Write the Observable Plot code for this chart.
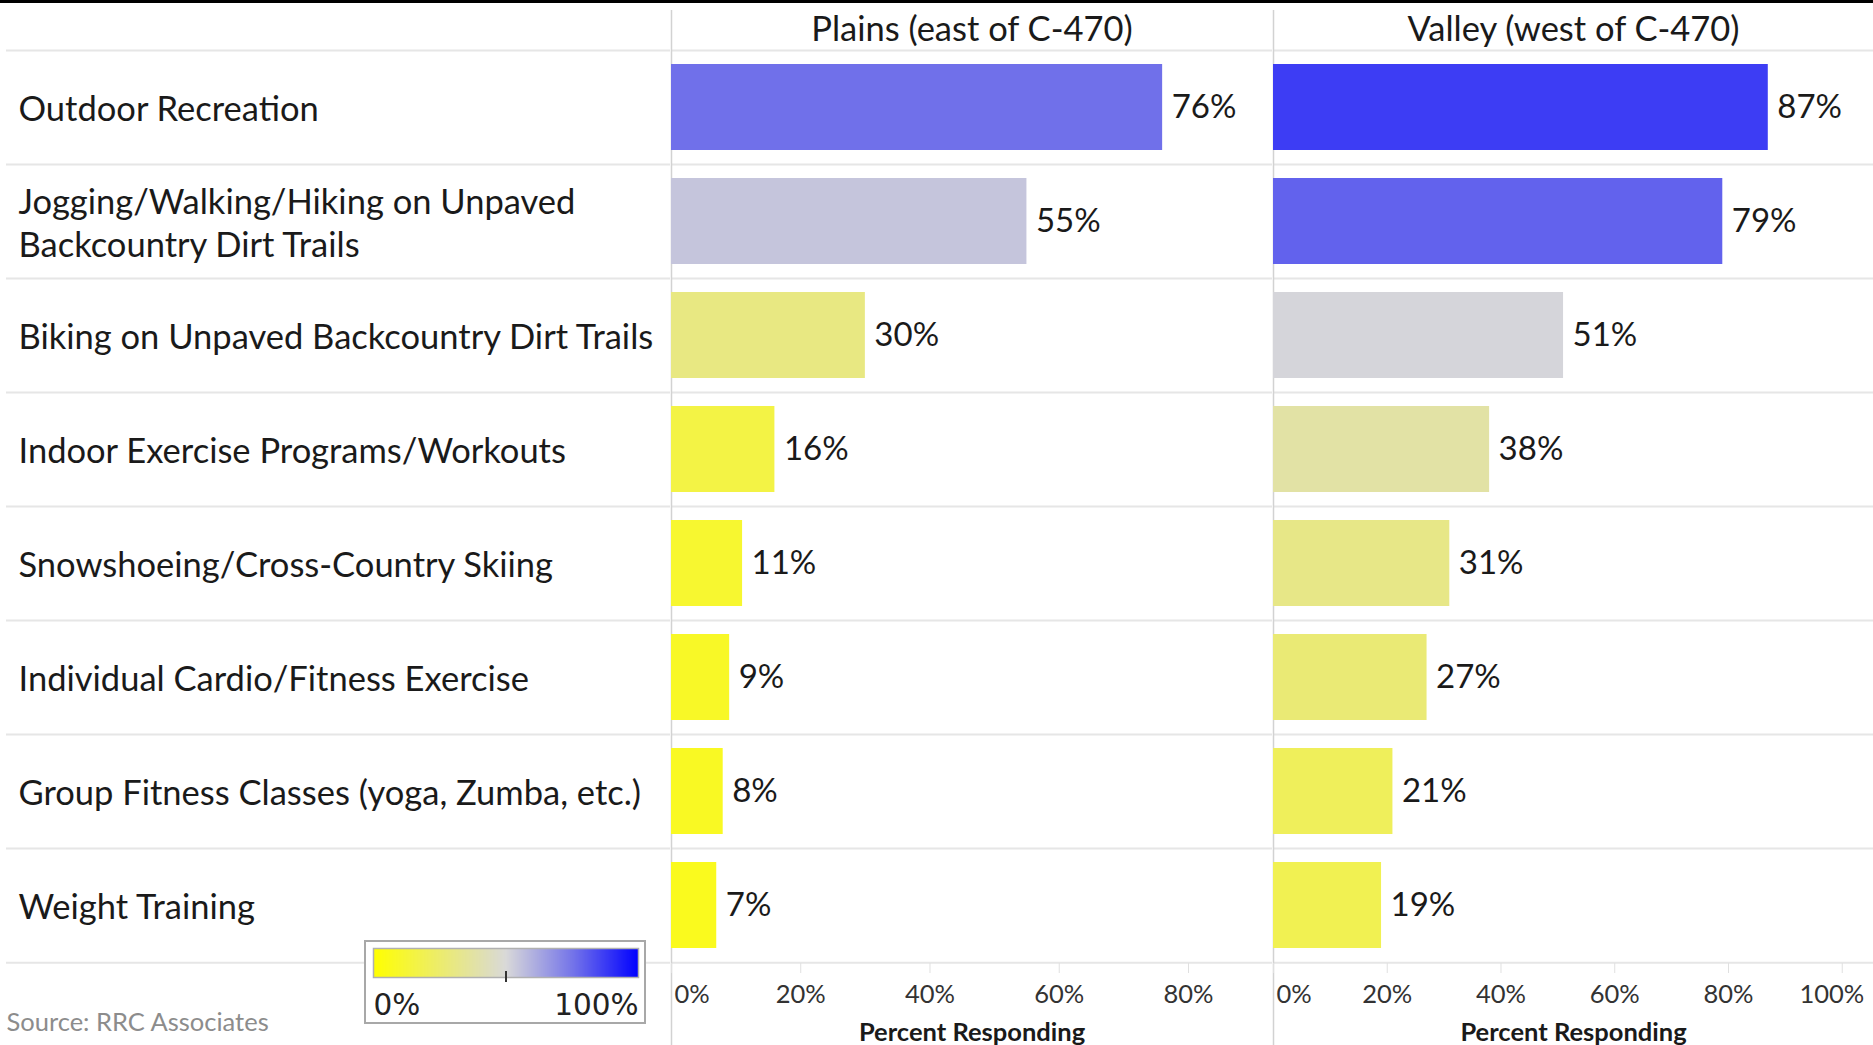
<!DOCTYPE html>
<html><head><meta charset="utf-8">
<script src="https://cdn.jsdelivr.net/npm/d3@7"></script>
<script src="https://cdn.jsdelivr.net/npm/@observablehq/plot@0.6"></script>
<style>
body{margin:0;background:#fff;}
#wrap{position:relative;width:1873px;height:1045px;border-top:3px solid #000;box-sizing:border-box;display:flex;overflow:hidden;background:#fff}
#wrap > svg, #wrap > figure{flex:none;margin:0}
#legend{position:absolute;left:364px;top:937px;width:282px;height:84px;box-sizing:border-box;border:2px solid #a8a8a8;background:#fff;padding:0}
#legend svg{display:block}
</style></head><body><div id="wrap"></div>
<script>
const activities = [
  "Outdoor Recreation",
  "Jogging/Walking/Hiking on Unpaved\nBackcountry Dirt Trails",
  "Biking on Unpaved Backcountry Dirt Trails",
  "Indoor Exercise Programs/Workouts",
  "Snowshoeing/Cross-Country Skiing",
  "Individual Cardio/Fitness Exercise",
  "Group Fitness Classes (yoga, Zumba, etc.)",
  "Weight Training"
];
const plainsPct = [76, 55, 30, 16, 11, 9, 8, 7];
const valleyPct = [87, 79, 51, 38, 31, 27, 21, 19];
const panelTitles = ["Plains (east of C-470)", "Valley (west of C-470)"];
const plainsTicks = [0, 20, 40, 60, 80];
const valleyTicks = [0, 20, 40, 60, 80, 100];
const colorStops = [0, 50, 75, 100];
const colorRange = ["#ffff00", "#d9d9d9", "#7575e9", "#0000ff"];
const legendLabels = ["0%", "100%"];
const axisTitle = "Percent Responding";
const sourceNote = "Source: RRC Associates";

const FONT = "Lato, 'Noto Sans', sans-serif";
const H = 1042, MT = 46, MB = 82;
const step = (H - MT - MB) / activities.length;
const SEP = "#e6e6e6", DIV = "#d2d2d2", INK = "#1a1a1a";
const yOpts = {domain: activities, paddingInner: 0.25, paddingOuter: 0.125, axis: null};
const colorOpts = {type: "linear", domain: colorStops, range: colorRange, interpolate: "rgb"};
const styleOpts = {fontFamily: FONT, background: "transparent", overflow: "visible"};

function separators() {
  return [
    Plot.ruleY(activities, {y: d => d, dy: -step / 2, stroke: SEP, strokeWidth: 2}),
    Plot.ruleY(activities.slice(-1), {y: d => d, dy: step / 2, stroke: SEP, strokeWidth: 2})
  ];
}

const labelPlot = Plot.plot({
  width: 670, height: H, marginTop: MT, marginBottom: MB, marginLeft: 6, marginRight: 0,
  y: yOpts, style: styleOpts,
  marks: [
    ...separators(),
    Plot.text(activities, {y: d => d, text: d => d, frameAnchor: "left", textAnchor: "start",
      dx: 12, fontSize: 34.5, lineHeight: 1.25, fill: INK}),
    Plot.text([sourceNote], {frameAnchor: "bottom-left", textAnchor: "start", lineAnchor: "middle", dy: 59,
      fontSize: 25.5, fill: "#8c8c8c"})
  ]
});

function panel(title, values, ticks, xMax, width) {
  const data = activities.map((a, i) => ({activity: a, value: values[i]}));
  const last = ticks[ticks.length - 1];
  const endTick = last >= 100 ? [last] : [];
  const midTicks = ticks.filter(t => t !== 0 && !endTick.includes(t));
  const tickText = {x: d => d, text: d => d + "%", frameAnchor: "bottom", lineAnchor: "middle", dy: 31, fontSize: 25.5, fill: "#333"};
  return Plot.plot({
    width, height: H, marginTop: MT, marginBottom: MB, marginLeft: 1, marginRight: 0,
    x: {domain: [0, xMax], label: null},
    y: yOpts, color: colorOpts, style: styleOpts,
    marks: [
      ...separators(),
      Plot.ruleX([0], {stroke: DIV, strokeWidth: 1.5, insetTop: -(MT - 7), insetBottom: -MB}),
      Plot.barX(data, {y: "activity", x: "value", fill: "value"}),
      Plot.text(data, {y: "activity", x: "value", text: d => d.value + "%", dx: 9,
        textAnchor: "start", fontSize: 33, fill: INK}),
      Plot.text([title], {frameAnchor: "top", lineAnchor: "middle", dy: -20, fontSize: 34.5, fill: INK}),
      Plot.axisX({ticks, tickSize: 10, tickFormat: () => "", stroke: "#e0e0e0", label: null}),
      Plot.text([0], {...tickText, textAnchor: "start", dx: 3}),
      Plot.text(midTicks, tickText),
      Plot.text(endTick, {...tickText, textAnchor: "end", dx: 22}),
      Plot.text([axisTitle], {frameAnchor: "bottom", lineAnchor: "middle", dy: 69, fontSize: 25.5, fontWeight: "bold", fill: INK})
    ]
  });
}

const wrap = document.getElementById("wrap");
wrap.append(labelPlot);
wrap.append(panel(panelTitles[0], plainsPct, plainsTicks, 93, 602));
wrap.append(panel(panelTitles[1], valleyPct, valleyTicks, 105.5, 601));

const legendPlot = Plot.plot({
  width: 278, height: 80, marginLeft: 7, marginRight: 6, marginTop: 6, marginBottom: 45,
  x: {domain: [0, 100], axis: null}, y: {domain: [0, 1], axis: null},
  color: colorOpts, style: {fontFamily: "'DejaVu Sans', sans-serif", background: "transparent", overflow: "visible"},
  marks: [
    Plot.raster({x1: 0, x2: 100, y1: 0, y2: 1, fill: (x, y) => x, pixelSize: 1}),
    Plot.frame({stroke: "#b0b0b0", strokeWidth: 1.5}),
    Plot.ruleX([50], {stroke: "#333", strokeWidth: 2, insetTop: 23, insetBottom: -5}),
    Plot.text([legendLabels[0]], {frameAnchor: "bottom-left", textAnchor: "start", lineAnchor: "middle", dy: 28, fontSize: 29.5, fill: "#222"}),
    Plot.text([legendLabels[1]], {frameAnchor: "bottom-right", textAnchor: "end", lineAnchor: "middle", dy: 28, fontSize: 29.5, fill: "#222"})
  ]
});
const legendDiv = document.createElement("div");
legendDiv.id = "legend";
legendDiv.append(legendPlot);
wrap.append(legendDiv);
</script></body></html>
